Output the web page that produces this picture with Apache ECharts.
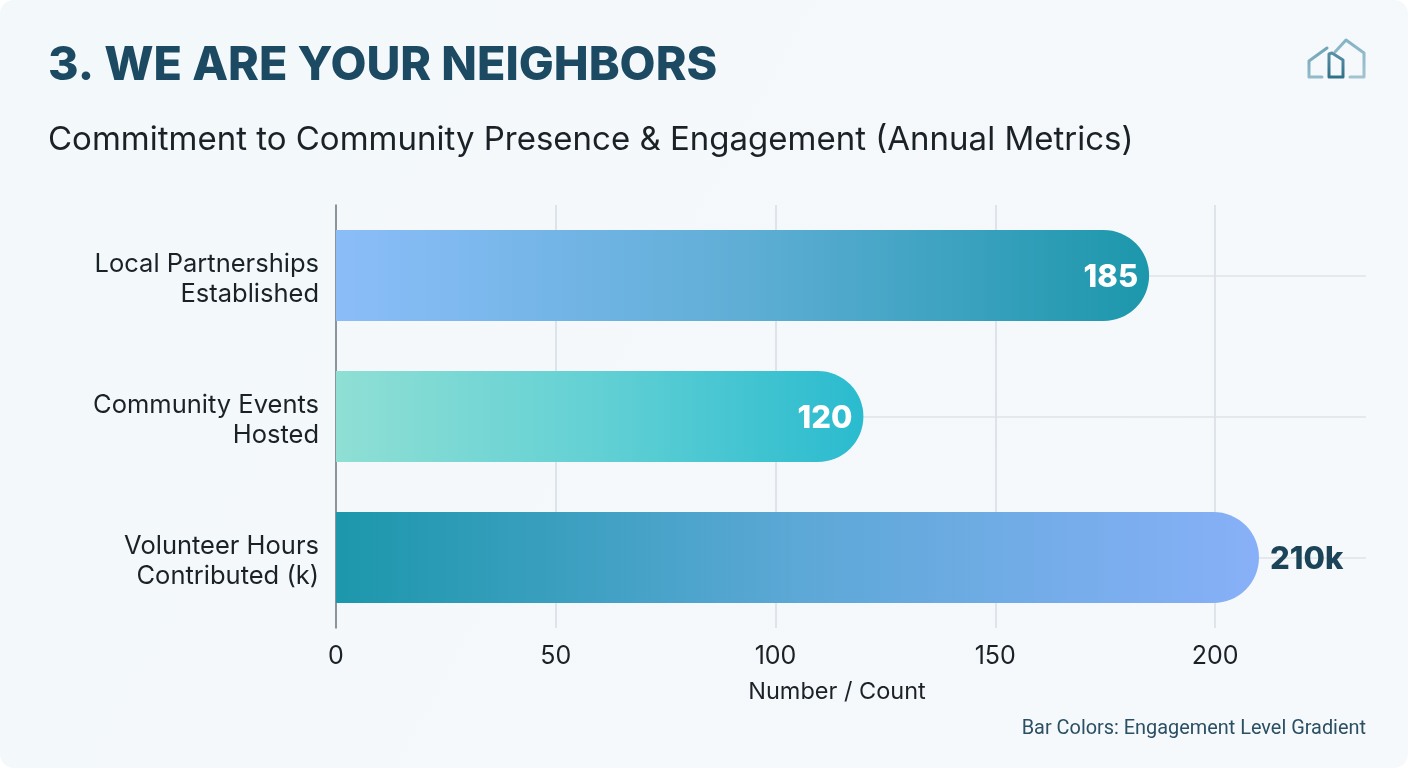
<!DOCTYPE html>
<html>
<head>
<meta charset="utf-8">
<style>
  html, body { margin: 0; padding: 0; background: #ffffff; }
  #chart { width: 1408px; height: 768px; }
</style>
<script src="https://cdn.jsdelivr.net/npm/echarts@6/dist/echarts.min.js"></script>
</head>
<body>
<div id="chart"></div>
<script>
// Annual community metrics
const categories = ['Local Partnerships\nEstablished', 'Community Events\nHosted', 'Volunteer Hours\nContributed (k)'];
const values = [185, 120, 210];
const valueLabels = ['185', '120', '210k'];
const tickStep = 50;

// Horizontal gradient per bar, left to right
const barGradients = [
  ['#8BBDF9', '#5FAED6', '#1C97AB'],
  ['#8FDFD4', '#62D0D4', '#2ABBCF'],
  ['#1C97AB', '#5CA8D6', '#88B0F8']
];

const SANS = 'Inter, "Noto Sans", sans-serif';

function gradient(stops) {
  return new echarts.graphic.LinearGradient(0, 0, 1, 0, [
    { offset: 0, color: stops[0] },
    { offset: 0.5, color: stops[1] },
    { offset: 1, color: stops[2] }
  ]);
}

const barData = values.map((v, i) => ({
  value: v,
  itemStyle: { color: gradient(barGradients[i]), borderRadius: [0, 45.5, 45.5, 0] },
  label: i === 2
    ? { position: 'right', distance: 11, color: '#1B4459' }
    : { position: 'insideRight', distance: 11, color: '#ffffff' }
}));

// Thin house outlines in the top right corner
function houseLine(points, from, to, width) {
  return {
    type: 'polyline',
    silent: true,
    shape: { points: points },
    style: {
      fill: null,
      lineWidth: width,
      lineCap: 'round',
      lineJoin: 'round',
      stroke: new echarts.graphic.LinearGradient(0, 0, 0, 1, [
        { offset: 0, color: from },
        { offset: 1, color: to }
      ])
    }
  };
}

// Two-line category text; the taller first line sits the block slightly below the band centre
const categoryLine = { fontFamily: SANS, fontSize: 25.5, color: '#1A2127', align: 'right', verticalAlign: 'bottom' };

const chart = echarts.init(document.getElementById('chart'), null, { renderer: 'canvas' });

chart.setOption({
  animation: false,
  backgroundColor: 'transparent',
  textStyle: { fontFamily: SANS },
  title: [
    {
      text: '3. WE ARE YOUR NEIGHBORS',
      left: 48, top: 42, padding: 0,
      textStyle: { fontFamily: SANS, fontSize: 46.6, fontWeight: 800, color: '#1C4A63' }
    },
    {
      text: 'Commitment to Community Presence & Engagement (Annual Metrics)',
      left: 48, top: 124, padding: 0,
      textStyle: { fontFamily: SANS, fontSize: 33, fontWeight: 400, color: '#1A2127' }
    },
    {
      text: 'Bar Colors: Engagement Level Gradient',
      right: 42, top: 719, padding: 0,
      textStyle: { fontFamily: 'Roboto, sans-serif', fontSize: 19.9, fontWeight: 400, color: '#2B4F63' }
    }
  ],
  grid: { left: 336, top: 205, width: 1030, height: 423, containLabel: false },
  xAxis: {
    type: 'value',
    min: 0,
    max: 234.35,
    interval: tickStep,
    name: 'Number / Count',
    nameLocation: 'middle',
    nameGap: 52,
    nameTextStyle: { fontFamily: SANS, fontSize: 23.5, color: '#1A2127', padding: [0, 28, 0, 0] },
    axisLine: { show: false },
    axisTick: { show: false },
    axisLabel: { margin: 16, fontFamily: SANS, fontSize: 25, color: '#1A2127', showMaxLabel: false },
    splitLine: { show: true, showMaxLine: false, lineStyle: { color: '#D6DDE3', width: 1.5 } }
  },
  yAxis: {
    type: 'category',
    inverse: true,
    data: categories,
    axisLine: { show: true, lineStyle: { color: '#6F7A84', width: 1.5 } },
    axisTick: { show: false },
    splitLine: { show: false },
    axisLabel: {
      margin: 17,
      align: 'right',
      formatter: v => {
        const lines = v.split('\n');
        return '{first|' + lines[0] + '}\n{second|' + lines[1] + '}';
      },
      rich: {
        first: Object.assign({ lineHeight: 33.5 }, categoryLine),
        second: Object.assign({ lineHeight: 30.5 }, categoryLine)
      }
    }
  },
  series: [
    {
      // Guide lines through each band's centre, drawn under the bars
      type: 'line',
      z: 1,
      silent: true,
      showSymbol: false,
      data: [],
      markLine: {
        z: 1,
        silent: true,
        symbol: 'none',
        label: { show: false },
        lineStyle: { type: 'solid', color: '#DCE3E9', width: 1.5 },
        data: categories.map(c => ({ yAxis: c }))
      }
    },
    {
      type: 'bar',
      z: 3,
      barWidth: 91,
      data: barData,
      label: {
        show: true,
        fontFamily: SANS,
        fontSize: 31,
        fontWeight: 800,
        offset: [0, 2],
        formatter: p => valueLabels[p.dataIndex]
      }
    }
  ],
  graphic: [
    {
      type: 'rect',
      z: -10,
      silent: true,
      shape: { x: 0, y: 0, width: 1408, height: 768, r: 14 },
      style: {
        fill: new echarts.graphic.LinearGradient(0, 0, 1, 1, [
          { offset: 0, color: '#F3F8FA' },
          { offset: 1, color: '#F6F9FB' }
        ])
      }
    },
    houseLine([[1335, 52], [1346, 40], [1364, 53], [1364, 77], [1350, 77]], '#84B2C4', '#A3C4D1', 3),
    houseLine([[1327, 48], [1309, 61], [1309, 77], [1322, 77]], '#6FA3B6', '#93BCCB', 3),
    houseLine([[1329, 77], [1329, 54], [1332, 53], [1343, 60], [1343, 77], [1329, 77]], '#5C93A8', '#2F6E87', 3)
  ]
});
</script>
</body>
</html>
